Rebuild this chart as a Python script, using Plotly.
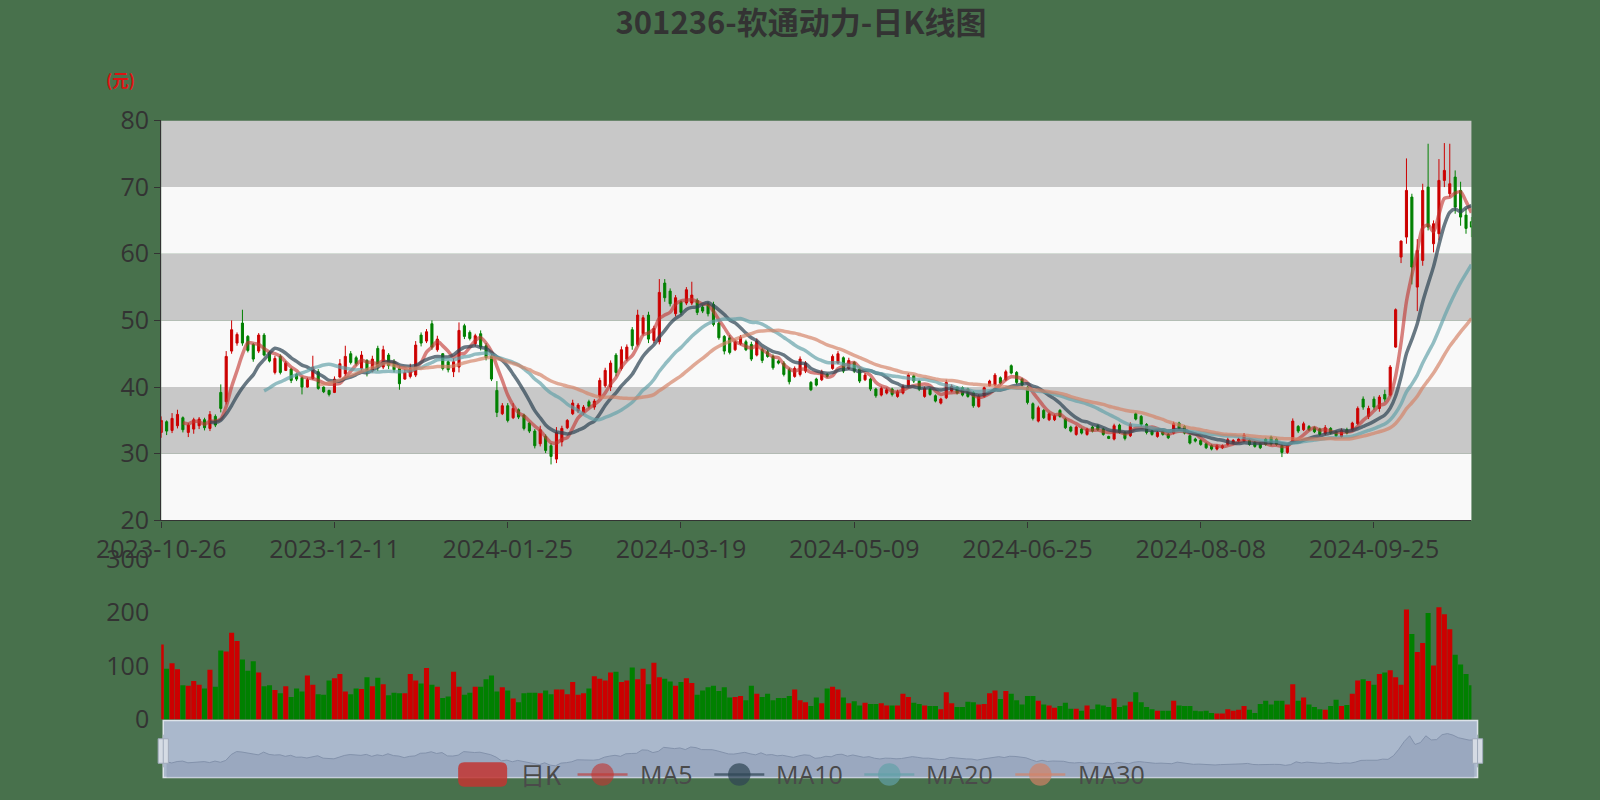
import pandas as pd
import plotly.graph_objects as go

# ---------------- data ----------------
holidays = ['2024-01-01', '2024-02-09', '2024-02-12', '2024-02-13', '2024-02-14', '2024-02-15',
            '2024-02-16', '2024-04-04', '2024-04-05', '2024-05-01', '2024-05-02', '2024-05-03',
            '2024-06-10', '2024-09-16', '2024-09-17', '2024-10-01', '2024-10-02', '2024-10-03',
            '2024-10-04', '2024-10-07']
dates = [d.strftime('%Y-%m-%d') for d in pd.bdate_range('2023-10-26', '2024-10-28')
         if d.strftime('%Y-%m-%d') not in holidays]

open_ = [33.2, 34.8, 33.5, 34.2, 35.4, 33.2, 33.7, 34.2, 35.1, 33.8,
         35.6, 39.2, 37.8, 45.4, 46.6, 49.6, 47.6, 46.4, 45.4, 47.8,
         45.2, 42.2, 44.6, 42.5, 42.7, 41.9, 41.4, 40.0, 41.3, 42.3,
         40.0, 39.5, 39.2, 41.5, 42.0, 45.0, 44.4, 42.8, 44.0, 42.4,
         45.8, 43.0, 44.8, 43.8, 42.8, 41.2, 41.6, 41.8, 47.8, 46.9,
         49.5, 45.6, 45.0, 43.8, 42.3, 43.0, 49.2, 48.2, 46.5, 48.0,
         46.2, 44.6, 39.5, 36.0, 37.2, 35.4, 36.6, 35.8, 34.6, 33.4,
         31.5, 32.6, 31.2, 29.2, 31.8, 33.9, 36.0, 36.4, 36.2, 37.8,
         37.0, 38.6, 40.2, 40.0, 44.8, 42.8, 44.2, 48.6, 46.4, 48.0,
         50.8, 47.0, 46.8, 55.6, 54.4, 51.0, 52.8, 52.6, 52.6, 53.0,
         52.0, 52.4, 52.4, 49.6, 47.6, 47.4, 45.6, 46.5, 46.8, 46.4,
         44.8, 45.6, 45.3, 44.6, 43.9, 43.6, 42.6, 41.6, 41.9, 42.4,
         40.7, 41.2, 41.1, 41.9, 42.8, 43.6, 44.4, 42.8, 43.7, 42.7,
         41.1, 41.2, 39.7, 38.8, 39.1, 39.7, 38.6, 39.1, 40.1, 41.7,
         40.9, 38.6, 39.7, 38.7, 37.6, 38.4, 39.4, 40.0, 39.9, 39.7,
         39.2, 37.1, 38.6, 40.2, 40.3, 41.4, 41.1, 43.2, 42.2, 41.2,
         40.0, 37.5, 34.9, 36.5, 35.1, 35.1, 36.5, 35.2, 34.0, 32.9,
         33.7, 32.9, 34.0, 34.2, 33.7, 32.6, 32.2, 34.3, 33.2, 32.7,
         36.0, 35.6, 34.4, 33.4, 32.6, 33.4, 32.9, 33.1, 34.6, 34.1,
         32.7, 32.2, 32.0, 31.5, 31.2, 30.7, 30.9, 31.4, 31.6, 31.9,
         31.9, 32.0, 31.7, 31.5, 32.2, 32.5, 32.2, 31.2, 30.2, 31.9,
         34.1, 33.6, 34.1, 33.9, 33.7, 33.0, 33.8, 33.3, 32.6, 33.6,
         33.6, 34.5, 38.2, 35.6, 38.2, 36.8, 38.9, 38.8, 46.0, 59.5,
         62.5, 68.5, 55.0, 59.0, 70.0, 61.5, 63.0, 71.0, 69.0, 71.5,
         69.5, 65.8, 64.8]
high = [35.6, 35.0, 36.1, 36.6, 35.6, 34.6, 35.4, 35.5, 35.4, 36.4,
        35.9, 40.4, 45.4, 50.0, 48.2, 51.6, 47.8, 46.6, 48.1, 48.1,
        45.4, 44.7, 44.9, 43.9, 42.9, 42.1, 41.6, 41.4, 44.7, 42.7,
        40.1, 39.6, 41.6, 44.2, 46.2, 45.4, 44.7, 45.4, 44.2, 44.7,
        46.2, 46.2, 45.1, 44.2, 43.2, 42.7, 43.5, 46.9, 48.2, 48.7,
        50.0, 47.7, 45.1, 44.0, 44.3, 49.7, 49.5, 48.5, 48.0, 48.5,
        46.6, 45.0, 40.9, 37.6, 37.6, 37.6, 36.8, 36.0, 34.8, 33.7,
        34.2, 32.9, 31.6, 34.0, 34.2, 35.2, 38.1, 37.6, 37.3, 38.1,
        38.2, 41.4, 42.9, 44.0, 45.1, 46.1, 46.4, 49.0, 51.6, 50.8,
        51.3, 49.2, 56.2, 56.2, 54.8, 53.8, 53.0, 55.0, 55.8, 53.3,
        52.3, 52.8, 52.8, 49.8, 47.8, 47.8, 47.1, 47.8, 47.1, 46.8,
        47.3, 45.9, 45.6, 44.9, 44.1, 43.9, 42.9, 43.1, 44.6, 43.9,
        40.9, 41.4, 42.6, 42.1, 44.9, 45.4, 44.6, 44.4, 43.9, 42.9,
        42.1, 41.4, 39.9, 40.1, 39.9, 39.9, 39.6, 40.4, 42.1, 41.9,
        41.1, 40.1, 39.9, 38.9, 38.4, 41.1, 40.4, 40.1, 40.1, 39.9,
        39.4, 38.9, 40.1, 41.1, 42.1, 41.6, 42.6, 43.4, 42.4, 41.4,
        40.1, 37.7, 37.2, 36.7, 36.2, 35.9, 36.7, 35.4, 34.2, 34.2,
        33.9, 33.9, 34.2, 34.4, 33.9, 32.7, 34.5, 34.5, 33.4, 34.7,
        36.2, 35.8, 34.6, 33.6, 33.4, 33.6, 33.1, 34.8, 34.8, 34.3,
        32.9, 32.4, 32.2, 31.7, 31.4, 31.4, 31.4, 32.4, 32.2, 32.4,
        33.1, 32.2, 31.9, 31.7, 32.4, 32.7, 32.4, 31.4, 31.4, 35.3,
        34.3, 34.8, 34.3, 34.1, 33.9, 34.3, 34.0, 33.5, 33.8, 33.9,
        34.8, 37.1, 38.6, 37.2, 38.6, 38.8, 39.6, 43.3, 51.8, 62.0,
        74.3, 69.0, 62.2, 70.5, 76.5, 65.0, 74.2, 76.6, 76.5, 72.5,
        70.8, 66.8, 65.5]
low = [32.4, 32.8, 33.1, 33.8, 33.2, 32.5, 33.0, 33.7, 33.5, 33.4,
       34.0, 36.2, 37.4, 45.0, 46.2, 46.2, 45.2, 43.8, 45.1, 44.6,
       43.7, 41.9, 41.9, 42.4, 40.6, 40.9, 38.9, 39.9, 41.1, 39.6,
       39.1, 38.6, 39.1, 41.4, 41.6, 43.4, 43.2, 42.4, 41.6, 42.2,
       42.4, 42.7, 42.7, 42.2, 39.6, 41.1, 41.3, 41.5, 46.1, 46.6,
       45.6, 45.3, 42.5, 42.2, 41.5, 42.2, 47.2, 47.0, 46.1, 45.5,
       44.0, 40.9, 35.5, 35.8, 34.7, 35.2, 35.2, 33.5, 33.1, 30.8,
       31.1, 30.1, 28.4, 28.6, 31.1, 33.7, 35.8, 36.1, 35.8, 36.8,
       36.6, 38.3, 39.9, 39.4, 41.6, 42.5, 43.9, 45.6, 46.1, 47.7,
       46.6, 46.6, 46.4, 52.8, 52.1, 50.6, 50.8, 52.3, 52.3, 50.8,
       51.1, 50.6, 49.1, 47.1, 44.9, 44.9, 45.4, 46.3, 45.4, 43.9,
       44.6, 43.6, 44.4, 42.6, 43.4, 41.6, 40.4, 41.4, 41.6, 42.1,
       39.4, 40.1, 40.9, 41.4, 42.6, 43.4, 42.1, 42.6, 42.1, 40.6,
       40.9, 39.4, 38.4, 38.6, 38.9, 38.6, 38.4, 38.9, 39.9, 40.6,
       39.4, 38.4, 38.7, 37.7, 37.4, 38.2, 39.2, 38.9, 38.6, 38.4,
       36.9, 36.9, 38.4, 40.1, 40.1, 40.4, 40.9, 41.9, 40.4, 40.1,
       37.4, 35.0, 34.7, 35.2, 34.9, 34.9, 35.4, 33.7, 33.2, 32.7,
       32.9, 32.7, 33.2, 33.4, 32.7, 32.2, 32.0, 33.0, 32.0, 32.5,
       35.0, 34.1, 32.9, 32.7, 32.4, 32.7, 32.2, 32.9, 33.6, 32.9,
       31.4, 31.7, 31.2, 30.7, 30.5, 30.5, 30.7, 31.2, 31.4, 31.7,
       31.7, 31.2, 30.9, 30.7, 31.2, 31.2, 31.2, 29.5, 30.0, 31.7,
       33.1, 33.4, 33.4, 33.1, 32.7, 32.8, 32.9, 32.5, 32.4, 32.9,
       33.4, 34.3, 36.6, 35.2, 36.6, 36.3, 37.8, 38.6, 45.9, 58.6,
       61.5, 55.4, 51.4, 58.2, 63.5, 60.2, 62.0, 70.0, 68.5, 66.0,
       64.2, 63.0, 62.5]
close = [35.0, 33.4, 35.3, 35.9, 33.6, 34.3, 35.1, 35.2, 33.9, 35.9,
         34.3, 36.8, 44.6, 48.6, 47.9, 46.6, 45.5, 44.2, 47.8, 44.8,
         43.9, 44.3, 42.2, 43.6, 41.0, 41.2, 40.0, 41.1, 43.0, 39.8,
         39.3, 38.9, 41.2, 43.5, 44.6, 43.7, 43.5, 44.8, 42.2, 44.2,
         43.0, 45.6, 43.2, 42.6, 40.5, 42.2, 42.8, 46.3, 46.6, 48.3,
         46.0, 47.2, 42.8, 42.6, 43.8, 48.5, 47.6, 47.3, 47.7, 46.0,
         44.4, 41.2, 36.2, 37.2, 35.0, 36.8, 35.5, 33.8, 33.4, 31.2,
         33.6, 30.5, 29.6, 33.2, 33.8, 35.0, 37.6, 37.3, 37.0, 37.1,
         37.9, 41.0, 42.5, 43.6, 42.2, 45.6, 46.0, 46.2, 50.8, 50.4,
         47.2, 48.8, 54.2, 53.4, 52.5, 53.4, 51.2, 54.6, 53.8, 51.2,
         51.4, 51.0, 49.4, 47.4, 45.4, 45.2, 46.8, 47.5, 45.6, 44.2,
         46.9, 44.0, 44.6, 42.9, 43.6, 41.9, 40.8, 42.8, 44.2, 43.6,
         39.6, 40.3, 42.3, 41.6, 44.6, 45.0, 42.4, 44.0, 42.4, 40.9,
         41.8, 39.7, 38.7, 39.8, 39.6, 38.9, 39.3, 40.1, 41.8, 40.9,
         39.7, 39.8, 38.9, 37.9, 38.2, 40.7, 40.1, 39.1, 38.8, 38.6,
         37.2, 38.6, 39.9, 40.9, 41.8, 40.6, 42.3, 42.1, 40.7, 40.3,
         37.7, 35.3, 36.9, 35.4, 36.0, 35.7, 35.6, 33.9, 33.4, 34.0,
         33.1, 33.7, 33.4, 33.6, 32.9, 32.3, 34.2, 33.2, 32.3, 34.4,
         35.2, 34.4, 33.2, 32.9, 33.2, 32.9, 32.4, 34.5, 33.8, 33.1,
         31.6, 31.9, 31.4, 30.9, 30.7, 31.2, 31.2, 32.1, 32.0, 32.2,
         32.8, 31.4, 31.1, 30.9, 31.4, 31.5, 31.4, 30.2, 31.2, 34.9,
         33.4, 34.5, 33.6, 33.3, 32.9, 33.9, 33.1, 32.7, 33.5, 33.1,
         34.6, 36.8, 37.0, 36.8, 37.0, 38.5, 38.2, 43.0, 51.6, 61.9,
         69.5, 58.0, 60.5, 69.5, 64.0, 64.5, 71.0, 72.5, 70.5, 67.0,
         65.5, 63.8, 64.0]
volume = [140, 95, 105, 94, 64, 63, 72, 65, 58, 93,
          61, 129, 127, 162, 147, 112, 91, 109, 88, 62,
          64, 55, 49, 62, 42, 58, 52, 82, 65, 47,
          46, 73, 77, 85, 52, 47, 58, 57, 79, 62,
          78, 66, 45, 50, 49, 49, 85, 73, 67, 96,
          65, 61, 40, 43, 89, 61, 46, 50, 61, 61,
          75, 82, 52, 60, 54, 39, 32, 49, 50, 50,
          49, 54, 47, 56, 56, 47, 70, 46, 49, 58,
          81, 76, 73, 88, 89, 70, 73, 97, 75, 95,
          66, 106, 79, 76, 71, 63, 70, 77, 68, 46,
          54, 60, 63, 53, 60, 41, 42, 44, 36, 63,
          48, 42, 48, 36, 40, 40, 44, 56, 36, 32,
          25, 41, 30, 58, 61, 56, 41, 30, 34, 26,
          31, 29, 29, 30, 26, 26, 26, 48, 42, 31,
          29, 26, 25, 25, 19, 51, 30, 23, 23, 33,
          32, 28, 29, 49, 54, 38, 53, 48, 36, 28,
          44, 44, 35, 28, 26, 22, 25, 31, 20, 20,
          16, 26, 19, 28, 26, 23, 39, 23, 26, 33,
          51, 32, 23, 19, 16, 16, 16, 35, 26, 25,
          25, 16, 15, 16, 12, 11, 11, 19, 16, 18,
          25, 18, 12, 29, 35, 28, 35, 35, 28, 66,
          35, 41, 28, 23, 19, 18, 25, 37, 25, 27,
          48, 73, 75, 72, 65, 85, 88, 92, 79, 65,
          206, 160, 126, 143, 199, 101, 210, 197, 169, 121,
          103, 85, 64]
tick_dates = dates[::32]
price_ticks = [20, 30, 40, 50, 60, 70, 80]
volume_ticks = [0, 100, 200, 300]
ma_windows = [5, 10, 20, 30]
ma_names = ['MA5', 'MA10', 'MA20', 'MA30']

# ---------------- style ----------------
W, H = 1600, 800
S = 1 / 0.98          # layout positions below were measured on a 0.98-scaled view
BG = '#48714c'
UP, DOWN = '#cc0000', '#008000'
MA_COLORS = ['rgba(194,53,49,0.62)', 'rgba(47,69,84,0.72)', 'rgba(97,160,168,0.68)', 'rgba(212,130,101,0.68)']
FONT = 'Open Sans, Noto Sans CJK SC, sans-serif'
CJK = 'Noto Sans CJK SC, sans-serif'


def px_x(v):
    return v * S / W


def px_y(v):
    return 1 - v * S / H


XD = [px_x(158), px_x(1442)]
N = len(dates)

fig = go.Figure()

fig.add_trace(go.Candlestick(
    x=dates, open=open_, high=high, low=low, close=close,
    increasing=dict(line=dict(color=UP, width=1), fillcolor=UP),
    decreasing=dict(line=dict(color=DOWN, width=1), fillcolor=DOWN),
    whiskerwidth=0, showlegend=False, hoverinfo='skip', xaxis='x', yaxis='y'))

close_s = pd.Series(close)
for w, name, col in zip(ma_windows, ma_names, MA_COLORS):
    ma = close_s.rolling(w).mean()
    fig.add_trace(go.Scatter(
        x=dates, y=[None if pd.isna(v) else round(v, 3) for v in ma], mode='lines', name=name,
        line=dict(color=col, width=3.5, shape='spline', smoothing=0.8),
        showlegend=False, hoverinfo='skip', xaxis='x', yaxis='y'))

vol_colors = [UP if c >= o else DOWN for o, c in zip(open_, close)]
fig.add_trace(go.Bar(x=dates, y=volume, marker=dict(color=vol_colors, line=dict(width=0)),
                     showlegend=False, hoverinfo='skip', xaxis='x2', yaxis='y2'))

# data shadow in the zoom slider
fig.add_trace(go.Scatter(x=dates, y=close, mode='lines', fill='tozeroy',
                         line=dict(color='#8392ab', width=1), fillcolor='rgba(140,155,180,0.55)',
                         showlegend=False, hoverinfo='skip', xaxis='x3', yaxis='y3'))

shapes = []
band_cols = ['#f9f9f9', '#c8c8c8']
for k in range(len(price_ticks) - 1):
    shapes.append(dict(type='rect', xref='x domain', yref='y', x0=0, x1=1,
                       y0=price_ticks[k], y1=price_ticks[k + 1],
                       fillcolor=band_cols[k % 2], line=dict(width=0), layer='below'))
# slider background
shapes.append(dict(type='rect', xref='paper', yref='paper', x0=px_x(160), x1=px_x(1448),
                   y0=px_y(762), y1=px_y(706), fillcolor='#aab8cc',
                   line=dict(color='#dde3ea', width=1.5), layer='below'))
# slider handles
for hx in (160, 1448):
    shapes.append(dict(type='rect', xref='paper', yref='paper', x0=px_x(hx - 5), x1=px_x(hx + 5),
                       y0=px_y(748), y1=px_y(724), fillcolor='#d5dbe4',
                       line=dict(color='#a0aabb', width=1), layer='above'))
    shapes.append(dict(type='line', xref='paper', yref='paper', x0=px_x(hx), x1=px_x(hx),
                       y0=px_y(752), y1=px_y(720), line=dict(color='#a0aabb', width=1), layer='above'))

# custom legend
leg_y = 759
r = 6
x0, x1, y0, y1 = 449, 497, 747, 771
path = (f"M {px_x(x0 + r)} {px_y(y0)} L {px_x(x1 - r)} {px_y(y0)} Q {px_x(x1)} {px_y(y0)} {px_x(x1)} {px_y(y0 + r)} "
        f"L {px_x(x1)} {px_y(y1 - r)} Q {px_x(x1)} {px_y(y1)} {px_x(x1 - r)} {px_y(y1)} "
        f"L {px_x(x0 + r)} {px_y(y1)} Q {px_x(x0)} {px_y(y1)} {px_x(x0)} {px_y(y1 - r)} "
        f"L {px_x(x0)} {px_y(y0 + r)} Q {px_x(x0)} {px_y(y0)} {px_x(x0 + r)} {px_y(y0)} Z")
shapes.append(dict(type='path', xref='paper', yref='paper', path=path,
                   fillcolor='rgba(194,53,49,0.85)', line=dict(width=0), layer='above'))
annotations = [dict(text='日K', x=px_x(508), y=px_y(leg_y), xref='paper', yref='paper',
                    xanchor='left', yanchor='middle', showarrow=False,
                    font=dict(family=CJK, size=25, color='#4a4a4a'))]
leg_x = [566, 700, 847, 995]
for lx, name, col in zip(leg_x, ma_names, MA_COLORS):
    shapes.append(dict(type='line', xref='paper', yref='paper', x0=px_x(lx), x1=px_x(lx + 49),
                       y0=px_y(leg_y), y1=px_y(leg_y), line=dict(color=col, width=2.5), layer='above'))
    cx = lx + 24.5
    shapes.append(dict(type='circle', xref='paper', yref='paper', x0=px_x(cx - 11), x1=px_x(cx + 11),
                       y0=px_y(leg_y + 11), y1=px_y(leg_y - 11), fillcolor=col,
                       line=dict(width=0), layer='above'))
    annotations.append(dict(text=name, x=px_x(lx + 59), y=px_y(leg_y), xref='paper', yref='paper',
                            xanchor='left', yanchor='middle', showarrow=False,
                            font=dict(family=FONT, size=25, color='#4a4a4a')))

annotations.append(dict(text='<b>(元)</b>', x=px_x(118), y=px_y(78), xref='paper', yref='paper',
                        xanchor='center', yanchor='middle', showarrow=False,
                        font=dict(family=CJK, size=16.5, color='#dd1111')))

fig.update_layout(
    width=W, height=H, margin=dict(l=0, r=0, t=0, b=0, autoexpand=False),
    paper_bgcolor=BG, plot_bgcolor='rgba(0,0,0,0)',
    title=dict(text='<b>301236-软通动力-日K线图</b>', x=px_x(785), xanchor='center', y=px_y(23), yanchor='middle',
               font=dict(family=CJK, size=31, color='#333333'), automargin=False),
    bargap=0.06, boxgap=0.45,
    shapes=shapes, annotations=annotations, showlegend=False,
    xaxis=dict(type='category', domain=XD, range=[0, N - 1], anchor='y', automargin=False,
               rangeslider=dict(visible=False), showgrid=False, zeroline=False,
               showline=True, linecolor='#333333', linewidth=1.2,
               ticks='outside', ticklen=6, tickcolor='#333333',
               tickmode='array', tickvals=tick_dates, ticktext=tick_dates,
               tickfont=dict(family=FONT, size=25, color='#333333')),
    yaxis=dict(domain=[px_y(510), px_y(118)], range=[20, 80], anchor='x', automargin=False,
               tickvals=price_ticks, showgrid=False, zeroline=False,
               showline=True, linecolor='#333333', linewidth=1.2,
               ticks='outside', ticklen=6, tickcolor='#333333',
               tickfont=dict(family=FONT, size=25, color='#333333')),
    xaxis2=dict(type='category', domain=XD, range=[0, N - 1], anchor='y2', matches='x', automargin=False,
                showticklabels=False, showgrid=False, zeroline=False, showline=False, ticks=''),
    yaxis2=dict(domain=[px_y(705), px_y(548)], range=[0, 300], anchor='x2', automargin=False,
                tickvals=volume_ticks, showgrid=False, zeroline=False, showline=False,
                ticks='outside', ticklen=6, tickcolor='rgba(0,0,0,0)',
                tickfont=dict(family=FONT, size=25, color='#333333')),
    xaxis3=dict(type='category', domain=[px_x(163), px_x(1445)], range=[0, N - 1], anchor='y3',
                visible=False, fixedrange=True, automargin=False),
    yaxis3=dict(domain=[px_y(762), px_y(706)], range=[14, 90], anchor='x3', visible=False,
                fixedrange=True, automargin=False),
)

fig.write_html("out.html", config={'displayModeBar': False},
               post_script="document.body.style.margin='0px';")
